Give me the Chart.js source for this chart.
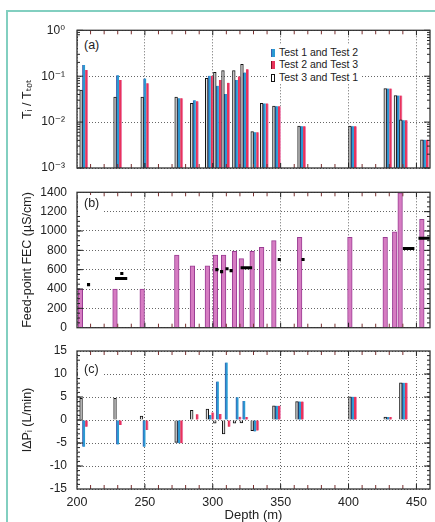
<!DOCTYPE html>
<html><head><meta charset="utf-8">
<script src="https://cdn.jsdelivr.net/npm/chart.js@4.4.0/dist/chart.umd.min.js"></script>
<style>
html,body{margin:0;padding:0;background:#fff;width:435px;height:522px;overflow:hidden;font-family:"Liberation Sans",Arial,sans-serif;}
#frame{position:absolute;left:6px;top:10px;width:440px;height:520px;border-top:2px solid #82cfc0;border-left:2.5px solid #82cfc0;}
.panel{position:absolute;left:0;width:435px;}
.panel canvas{display:block;position:absolute;left:0;top:0;}
.tag{position:absolute;background:#fff;font-size:12.5px;color:#222;line-height:16px;padding-left:6px;box-sizing:border-box;}
#legend{position:absolute;left:268px;top:44px;width:93px;height:40px;background:#fff;font-size:10.5px;color:#222;}
#legend .row{position:absolute;left:3px;height:12px;line-height:12px;white-space:nowrap;}
#legend .sw{display:inline-block;width:4px;height:8px;vertical-align:-1px;margin-right:4px;box-sizing:border-box;}
</style>
</head><body>
<div id="frame"></div>
<div class="panel" style="top:0;height:180px"><canvas id="ca" width="435" height="180"></canvas></div>
<div class="panel" style="top:180px;height:160px"><canvas id="cb" width="435" height="160"></canvas></div>
<div class="panel" style="top:340px;height:182px"><canvas id="cc" width="435" height="182"></canvas></div>
<div class="tag" style="left:78px;top:37px;width:24px;height:16px;">(a)</div>
<div class="tag" style="left:78px;top:195px;width:24px;height:19px;">(b)</div>
<div class="tag" style="left:78px;top:361px;width:24px;height:16px;">(c)</div>
<div id="legend">
  <div class="row" style="top:2px"><span class="sw" style="background:#2a9ad3;border-left:1.5px solid #3a5fae"></span>Test 1 and Test 2</div>
  <div class="row" style="top:14px"><span class="sw" style="background:#e8335a;border-left:1.5px solid #7a1020"></span>Test 2 and Test 3</div>
  <div class="row" style="top:27px"><span class="sw" style="background:#fff;border:1px solid #111"></span>Test 3 and Test 1</div>
</div>
<script>
// ---------- data ----------
const xTicks = [200, 250, 300, 350, 400, 450];
// Panel (a): Ti / Ttot per feed point
const depthsA = [205, 230, 250, 275, 286.5, 297.5, 303.5, 309.5, 317.5, 323.5, 331, 338, 347, 365.5, 403, 429, 436.5, 440.5, 456];
const tA31 = [0.05, 0.035, 0.035, 0.035, 0.0255, 0.09, 0.122, 0.132, 0.132, 0.182, 0.0062, 0.0257, 0.0224, 0.0082, 0.0082, 0.054, 0.038, 0.0112, 0.0041];
const tA12 = [0.176, 0.105, 0.089, 0.033, 0.030, 0.102, 0.062, 0.041, 0.083, 0.12, 0.006, 0.0255, 0.0222, 0.0081, 0.0081, 0.054, 0.038, 0.011, 0.0041];
const tA23 = [0.137, 0.083, 0.07, 0.033, 0.0285, 0.102, 0.083, 0.072, 0.099, 0.142, 0.006, 0.0255, 0.0222, 0.0081, 0.0081, 0.054, 0.038, 0.011, 0.0041];
const logLabels = {'-3': '10\u207B\u00B3', '-2': '10\u207B\u00B2', '-1': '10\u207B\u00B9', '0': '10\u2070'};
// Panel (b): feed-point FEC
const depthsB = [202.5, 228, 248, 273.5, 285, 296, 302, 308, 316, 321, 329, 336, 345, 364, 401, 427, 434, 438, 454];
const fecB = [400, 400, 400, 750, 640, 640, 750, 750, 790, 715, 790, 830, 900, 935, 935, 935, 990, 1395, 1120];
const sampleDepths = [208.5, 233, 303, 306.5, 310.5, 313.5, 349, 366.5];
const sampleFEC = [445, 560, 600, 580, 610, 590, 705, 705];
const rangeTop = [228, 320.5, 440, 451.5];
const rangeBottom = [237, 329, 448.5, 460];
const rangeFEC = [510, 620, 820, 925];
// Panel (c): flow differences
const depthsC = [205, 230, 249.5, 275, 286.5, 298, 303.5, 310, 318, 323, 331, 347, 364, 403, 429, 440.5];
const dP31 = [4.7, 4.7, 0.87, -4.85, 2.1, 2.4, -0.7, -3.0, -0.7, -0.65, -2.3, 3.1, 4.0, 5.05, 0.65, 8.1];
const dP12 = [-5.8, -5.3, -5.8, -5.05, 0, 1.1, 8.35, 12.5, 4.95, 4.15, -2.5, 3.1, 4.0, 5.05, 0.65, 8.1];
const dP23 = [-1.45, -1.1, -2.2, -5.05, 1.25, 1.65, 1.3, -1.45, 0.7, 0.65, -2.3, 3.1, 4.0, 5.05, 0.65, 8.1];

// ---------- styling helpers ----------
const FONT = '"Liberation Sans", "DejaVu Sans", Arial, sans-serif';
Chart.defaults.font.family = FONT;
Chart.defaults.color = '#222';
function pts(xs, ys) { return xs.map((d, i) => ({x: d, y: ys[i]})); }
function xScale(h, labels) {
  return {
    type: 'linear', min: 200, max: 460, offset: false,
    afterBuildTicks: s => { s.ticks = xTicks.map(v => ({value: v})); },
    ticks: {display: labels, padding: 6, font: {size: 12.5}, color: '#222', maxRotation: 0, autoSkip: false, callback: v => String(v)},
    grid: {color: '#555', lineWidth: 0.9, drawTicks: false, offset: false},
    border: {display: false, dash: [1, 2]},
    title: labels ? {display: true, text: 'Depth (m)', font: {size: 13, lineHeight: 1}, color: '#222', padding: {top: 0, bottom: 0}} : {display: false},
    afterFit: s => { s.height = h; s.paddingLeft = 0; s.paddingRight = 0; s.paddingTop = 0; s.paddingBottom = 0; }
  };
}
function yCommon(extra) {
  return Object.assign({
    afterFit: s => { s.width = 77; s.paddingTop = 0; s.paddingBottom = 0; s.paddingLeft = 0; s.paddingRight = 0; },
    grid: {color: '#555', lineWidth: 0.9, drawTicks: false},
    border: {display: false, dash: [1, 2]},
  }, extra);
}
function yTitle(text) {
  return {display: true, text: text, font: {size: 12.5}, color: '#222', padding: {top: 20, bottom: 0}};
}
const boxPlugin = {
  id: 'box',
  afterDraw(chart, args, opts) {
    const {ctx, chartArea: a, scales: {x, y}} = chart;
    ctx.save();
    const seg = (x1, y1, x2, y2) => { ctx.beginPath(); ctx.moveTo(x1, y1); ctx.lineTo(x2, y2); ctx.stroke(); };
    ctx.lineWidth = 1;
    for (let d = 210; d < 460; d += 10) {
      const px = x.getPixelForValue(d);
      const major = d % 50 === 0;
      ctx.strokeStyle = major ? '#222' : '#7a3030';
      const len = major ? 5 : 4;
      seg(px, a.top, px, a.top + len);
      seg(px, a.bottom, px, a.bottom - len);
    }
    ctx.strokeStyle = '#222';
    (opts.minor || []).forEach(v => { const py = y.getPixelForValue(v); seg(a.left, py, a.left + 3, py); seg(a.right, py, a.right - 3, py); });
    (opts.major || []).forEach(v => { const py = y.getPixelForValue(v); seg(a.left, py, a.left + 6, py); seg(a.right, py, a.right - 6, py); });
    ctx.lineWidth = 1.3;
    ctx.strokeStyle = '#333';
    ctx.strokeRect(a.left, a.top, a.right - a.left, a.bottom - a.top);
    ctx.restore();
  }
};
const base = {responsive: false, animation: false, devicePixelRatio: 1, plugins: {legend: {display: false}, tooltip: {enabled: false}}};
const WHITE = {backgroundColor: '#e4e4e4', borderColor: '#111', borderWidth: 1, borderSkipped: 'start'};
const BLUE = {backgroundColor: '#2a9ad3', borderColor: '#3a5fae', borderWidth: {left: 1}, borderSkipped: 'start'};
const RED = {backgroundColor: '#e8335a', borderColor: '#f08ab4', borderWidth: {right: 1}, borderSkipped: 'start'};

// ---------- panel (a) ----------
const logMinor = [];
[-3, -2, -1].forEach(e => { for (let m = 2; m <= 9; m++) logMinor.push(m * Math.pow(10, e)); });
new Chart(document.getElementById('ca'), {
  type: 'bar',
  data: {datasets: [
    Object.assign({label: 'Test 3 and Test 1', data: pts(depthsA, tA31), barThickness: 2.7}, WHITE),
    Object.assign({label: 'Test 1 and Test 2', data: pts(depthsA, tA12), barThickness: 2.7}, BLUE),
    Object.assign({label: 'Test 2 and Test 3', data: pts(depthsA, tA23), barThickness: 2.7}, RED),
  ]},
  options: Object.assign({}, base, {
    layout: {padding: {top: 30.3, right: 5, bottom: 0, left: 0}},
    plugins: Object.assign({}, base.plugins, {box: {minor: logMinor, major: [0.001, 0.01, 0.1, 1]}}),
    scales: {
      x: xScale(12, false),
      y: yCommon({
        type: 'logarithmic', min: 0.001, max: 1,
        afterBuildTicks: s => { s.ticks = [0.001, 0.01, 0.1, 1].map(v => ({value: v})); },
        ticks: {padding: 12, font: {size: 12}, color: '#222', callback: v => logLabels[String(Math.round(Math.log10(v)))]},
        title: yTitle('T\u1D62 / T\u209C\u2092\u209C'),
      }),
    },
  }),
  plugins: [boxPlugin],
});

// ---------- panel (b) ----------
const rangeLine = [];
rangeTop.forEach((t, i) => { rangeLine.push({x: t, y: rangeFEC[i]}, {x: rangeBottom[i], y: rangeFEC[i]}, {x: rangeBottom[i] + 0.1, y: null}); });
const minorB = [];
for (let v = 50; v < 1400; v += 50) minorB.push(v);
new Chart(document.getElementById('cb'), {
  type: 'bar',
  data: {datasets: [
    {type: 'line', label: 'sampled interval', data: rangeLine, borderColor: '#000', borderWidth: 3, pointRadius: 0, spanGaps: false, borderCapStyle: 'butt', order: 0},
    {type: 'line', label: 'sample', data: pts(sampleDepths, sampleFEC), showLine: false, pointStyle: 'rect', pointRadius: 2.2, pointBackgroundColor: '#000', pointBorderWidth: 0, order: 0},
    {label: 'Feed-point FEC', data: pts(depthsB, fecB), barThickness: 4.6, backgroundColor: '#d67cc2', borderColor: '#9a3c93', borderWidth: 1, borderSkipped: 'start', order: 1},
  ]},
  options: Object.assign({}, base, {
    layout: {padding: {top: 12.3, right: 5, bottom: 0, left: 0}},
    plugins: Object.assign({}, base.plugins, {box: {minor: minorB, major: [200, 400, 600, 800, 1000, 1200]}}),
    scales: {
      x: xScale(12.3, false),
      y: yCommon({type: 'linear', min: 0, max: 1400, ticks: {stepSize: 200, padding: 10, font: {size: 12}, color: '#222', callback: v => String(v)}, title: yTitle('Feed-point FEC (\u00B5S/cm)')}),
    },
  }),
  plugins: [boxPlugin],
});

// ---------- panel (c) ----------
const minorC = [];
for (let v = -14; v < 15; v++) minorC.push(v);
new Chart(document.getElementById('cc'), {
  type: 'bar',
  data: {datasets: [
    Object.assign({label: 'Test 3 and Test 1', data: pts(depthsC, dP31), barThickness: 2.7}, WHITE),
    Object.assign({label: 'Test 1 and Test 2', data: pts(depthsC, dP12), barThickness: 2.7}, BLUE),
    Object.assign({label: 'Test 2 and Test 3', data: pts(depthsC, dP23), barThickness: 2.7}, RED),
  ]},
  options: Object.assign({}, base, {
    layout: {padding: {top: 11, right: 5, bottom: 0, left: 0}},
    plugins: Object.assign({}, base.plugins, {box: {minor: minorC, major: [-10, -5, 0, 5, 10]}}),
    scales: {
      x: xScale(33, true),
      y: yCommon({type: 'linear', min: -15, max: 15, ticks: {stepSize: 5, padding: 10, font: {size: 12}, color: '#222', callback: v => String(v)}, title: yTitle('I\u0394P\u1D62 (L/min)')}),
    },
  }),
  plugins: [boxPlugin],
});
</script>
</body></html>
